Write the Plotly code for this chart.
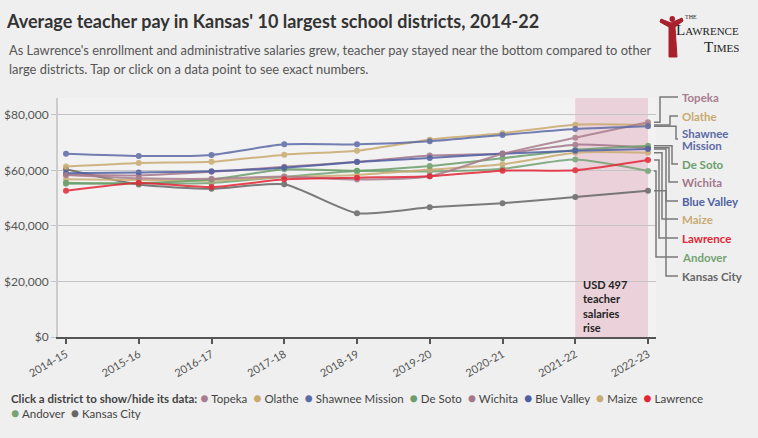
import plotly.graph_objects as go

years = ["2014-15", "2015-16", "2016-17", "2017-18", "2018-19",
         "2019-20", "2020-21", "2021-22", "2022-23"]

districts = ["Topeka", "Olathe", "Shawnee Mission", "De Soto", "Wichita",
             "Blue Valley", "Maize", "Lawrence", "Andover", "Kansas City"]

topeka          = [58400, 57200, 57000, 57800, 56700, 57900, 66000, 71800, 77400]
olathe          = [61400, 62700, 63100, 65700, 67100, 71100, 73400, 76500, 76400]
shawnee_mission = [66000, 65200, 65600, 69400, 69400, 70500, 72800, 74900, 75900]
de_soto         = [55600, 55400, 56700, 60400, 59900, 61600, 64400, 67400, 68900]
wichita         = [58500, 58200, 59500, 61300, 63100, 65400, 66100, 69300, 68200]
blue_valley     = [59000, 59300, 59700, 61000, 63000, 64500, 66000, 67100, 67700]
maize           = [56800, 56600, 56300, 57600, 58400, 60300, 62200, 66400, 66400]
lawrence        = [52700, 55500, 54000, 56800, 57400, 57900, 59900, 60100, 63800]
andover         = [55200, 55300, 55500, 57700, 59800, 59600, 60600, 63900, 59800]
kansas_city     = [60400, 54900, 53400, 55000, 44600, 46700, 48200, 50400, 52700]

values = [topeka, olathe, shawnee_mission, de_soto, wichita,
          blue_valley, maize, lawrence, andover, kansas_city]

colors = ["#a97d8f", "#c8aa6e", "#5c6aa6", "#6b9e6b", "#a3768a",
          "#4f5fa3", "#c9ab72", "#e32636", "#74a374", "#666666"]

end_labels = [["Topeka"], ["Olathe"], ["Shawnee", "Mission"], ["De Soto"], ["Wichita"],
              ["Blue Valley"], ["Maize"], ["Lawrence"], ["Andover"], ["Kansas City"]]

highlight_years = ["2021-22", "2022-23"]
highlight_note = "USD 497<br>teacher<br>salaries<br>rise"

FONT = "Lato, sans-serif"

W, H = 758, 438
L, R, T, B = 58, 656, 98, 337
YMAX = 86100
XPAD = 0.11


def px_x(p):
    return (p - L) / (R - L)


def px_y(p):
    return (B - p) / (B - T)


def idx_to_paper(i):
    return (i + XPAD) / (len(years) - 1 + 2 * XPAD)


fig = go.Figure()

draw_order = [9, 8, 6, 4, 3, 5, 1, 0, 2, 7]
for k in draw_order:
    fig.add_trace(go.Scatter(
        x=years, y=values[k], name=districts[k],
        mode="lines+markers",
        line=dict(color=colors[k], width=2, shape="spline", smoothing=0.6),
        marker=dict(color=colors[k], size=6),
        opacity=0.85,
        showlegend=False,
    ))

# highlight band
fig.add_shape(type="rect", xref="x", yref="paper",
              x0=highlight_years[0], x1=highlight_years[1], y0=0, y1=1,
              fillcolor="#ebd2da", line_width=0, layer="below")

fig.add_annotation(xref="paper", yref="paper",
                   x=px_x(581), y=px_y(276), xanchor="left", yanchor="top",
                   text="<b>" + highlight_note + "</b>", showarrow=False, align="left",
                   font=dict(family=FONT, size=11, color="#222"))

# end labels with elbow connectors
label_y_px = [97, 116, 139, 164, 182, 201, 219, 238, 257, 276]
elbow_px = [660, 670, 676, 672, 669, 666, 662, 659, 656, 666]
LINE_GAP = 12
for k in range(len(districts)):
    y_end = values[k][-1] / YMAX
    x_start = idx_to_paper(len(years) - 1) + 6 / (R - L)
    xe = px_x(elbow_px[k])
    yl = px_y(label_y_px[k])
    xl = px_x(678)
    fig.add_shape(type="path", xref="paper", yref="paper",
                  path=f"M {x_start} {y_end} L {xe} {y_end} L {xe} {yl} L {xl} {yl}",
                  line=dict(color="#7a7a7a", width=1.5), layer="above")
    n = len(end_labels[k])
    for j, part in enumerate(end_labels[k]):
        ypx = label_y_px[k] + (j - (n - 1) / 2) * LINE_GAP
        fig.add_annotation(xref="paper", yref="paper", x=px_x(680), y=px_y(ypx),
                           xanchor="left", yanchor="middle", align="left",
                           text="<b>" + part + "</b>", showarrow=False,
                           font=dict(family=FONT, size=11.5, color=colors[k]))

# subtitle
fig.add_annotation(xref="paper", yref="paper", x=px_x(7), y=px_y(50),
                   xanchor="left", yanchor="middle", showarrow=False,
                   text="As Lawrence's enrollment and administrative salaries grew, teacher pay stayed near the bottom compared to other",
                   font=dict(family=FONT, size=12.9, color="#555"))
fig.add_annotation(xref="paper", yref="paper", x=px_x(7), y=px_y(69),
                   xanchor="left", yanchor="middle", showarrow=False,
                   text="large districts. Tap or click on a data point to see exact numbers.",
                   font=dict(family=FONT, size=12.9, color="#555"))

# logo
SERIF = "Liberation Serif, DejaVu Serif, serif"
fig.add_annotation(xref="paper", yref="paper", x=px_x(741), y=px_y(30),
                   xanchor="right", yanchor="middle", showarrow=False,
                   text="L<span style='font-size:11px'>AWRENCE</span>",
                   font=dict(family=SERIF, size=15, color="#222"))
fig.add_annotation(xref="paper", yref="paper", x=px_x(741), y=px_y(47),
                   xanchor="right", yanchor="middle", showarrow=False,
                   text="T<span style='font-size:11px'>IMES</span>",
                   font=dict(family=SERIF, size=15, color="#222"))
fig.add_annotation(xref="paper", yref="paper", x=px_x(683), y=px_y(17),
                   xanchor="left", yanchor="middle", showarrow=False,
                   text="THE",
                   font=dict(family=SERIF, size=6, color="#222"))
fig.add_shape(type="path", xref="paper", yref="paper", layer="above",
              path=(f"M {px_x(661)} {px_y(19)} L {px_x(671)} {px_y(23)} L {px_x(682)} {px_y(18)} "
                    f"L {px_x(683)} {px_y(21)} L {px_x(675)} {px_y(27)} L {px_x(677)} {px_y(57)} "
                    f"L {px_x(669)} {px_y(57)} L {px_x(669)} {px_y(27)} L {px_x(660)} {px_y(22)} Z"),
              fillcolor="#a8202c", line=dict(color="#a8202c", width=1))
fig.add_shape(type="circle", xref="paper", yref="paper", layer="above",
              x0=px_x(669.5), x1=px_x(675), y0=px_y(22), y1=px_y(16),
              fillcolor="#a8202c", line=dict(color="#a8202c", width=0))

# legend (static text rows)
def item(k):
    return (f"<span style='color:{colors[k]};font-size:14px'>●</span> {districts[k]}")

row1 = "<b>Click a district to show/hide its data:</b> " + "  ".join(item(k) for k in range(8))
row2 = "  ".join(item(k) for k in range(8, 10))
fig.add_annotation(xref="paper", yref="paper", x=px_x(9), y=px_y(397),
                   xanchor="left", yanchor="middle", showarrow=False, text=row1,
                   font=dict(family=FONT, size=11.5, color="#444"))
fig.add_annotation(xref="paper", yref="paper", x=px_x(9), y=px_y(412),
                   xanchor="left", yanchor="middle", showarrow=False, text=row2,
                   font=dict(family=FONT, size=11.5, color="#444"))

fig.update_layout(
    width=W, height=H,
    margin=dict(l=L, r=W - R, t=T, b=H - B, autoexpand=False),
    paper_bgcolor="#efefef", plot_bgcolor="#f2f2f2",
    font=dict(family=FONT, color="#555"),
    title=dict(text="<b>Average teacher pay in Kansas' 10 largest school districts, 2014-22</b>",
               x=7 / W, xanchor="left", xref="container",
               y=1 - 22 / H, yanchor="middle", yref="container",
               font=dict(family=FONT, size=18, color="#333")),
    showlegend=False,
    hovermode="closest",
)

fig.update_xaxes(type="category", categoryorder="array", categoryarray=years,
                 range=[-XPAD, len(years) - 1 + XPAD],
                 showgrid=False, showline=True, linecolor="#555", linewidth=1.5,
                 ticks="outside", ticklen=5, tickcolor="#555", tickwidth=1.5,
                 tickangle=-30, tickfont=dict(family=FONT, size=11, color="#555"),
                 zeroline=False)
fig.update_yaxes(range=[0, YMAX], dtick=20000, tickprefix="$", tickformat=",",
                 showgrid=True, gridcolor="#c4c4c4", gridwidth=1,
                 showline=True, linecolor="#cccccc", linewidth=2,
                 ticks="outside", ticklen=5, tickcolor="#c4c4c4",
                 tickfont=dict(family=FONT, size=12, color="#555"),
                 zeroline=False)

fig.write_html("out.html", config={"displayModeBar": False},
               post_script="document.body.style.margin='0';document.body.style.background='#efefef';")
